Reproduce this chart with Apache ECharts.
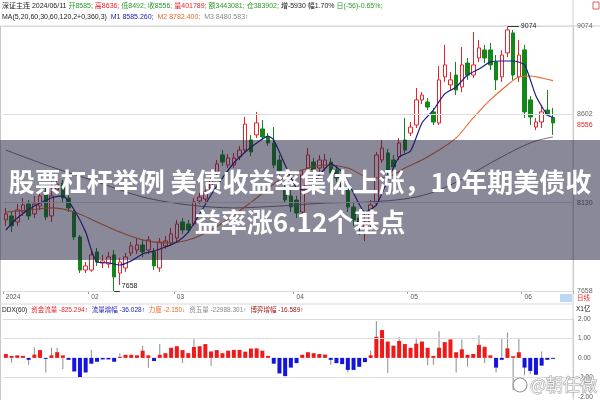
<!DOCTYPE html>
<html><head><meta charset="utf-8">
<script src="https://cdn.jsdelivr.net/npm/echarts@6/dist/echarts.min.js"></script>
<style>html,body{margin:0;padding:0;background:#fff}#c{width:600px;height:400px}</style>
</head><body><div id="c"></div><script>
const dates = ['01-11','01-12','01-15','01-16','01-17','01-18','01-19','01-22','01-23','01-24','01-25','01-26','01-29','01-30','01-31',
'02-01','02-02','02-05','02-06','02-07','02-08','02-19','02-20','02-21','02-22','02-23','02-26','02-27','02-28','02-29',
'03-01','03-04','03-05','03-06','03-07','03-08','03-11','03-12','03-13','03-14','03-15','03-18','03-19','03-20','03-21','03-22','03-25','03-26','03-27','03-28','03-29',
'04-01','04-02','04-03','04-08','04-09','04-10','04-11','04-12','04-15','04-16','04-17','04-18','04-19','04-22','04-23','04-24','04-25','04-26','04-29','04-30',
'05-06','05-07','05-08','05-09','05-10','05-13','05-14','05-15','05-16','05-17','05-20','05-21','05-22','05-23','05-24','05-27','05-28','05-29','05-30','05-31',
'06-03','06-04','06-05','06-06','06-07','06-11'];
const openP = [8038,8059,8027,8080,8123,8070,8112,8187,8059,8198,8235,8155,8080,7947,7770,7770,7867,7808,7802,7851,7754,7781,7861,7877,7904,7877,7867,7781,7899,7915,7941,8027,8016,8016,8139,8150,8198,8294,8385,8331,8331,8374,8411,8465,8492,8524,8481,8449,8358,8208,8166,8144,8080,8315,8347,8315,8315,8347,8305,8273,8208,8107,8048,7995,8027,8128,8358,8396,8358,8374,8465,8502,8545,8679,8668,8615,8556,8802,8759,8812,8748,8876,8812,8903,8946,8946,8882,8802,8930,9037,8802,8946,8679,8534,8561,8625,8585];
const closeP = [8070,8006,8091,8118,8059,8123,8166,8054,8166,8230,8155,8102,7947,7770,7792,7851,7813,7819,7840,7733,7813,7840,7899,7904,7867,7931,7792,7920,7925,7963,8016,7984,7984,8134,8160,8187,8251,8337,8347,8369,8369,8411,8550,8401,8556,8481,8449,8331,8289,8144,8107,8075,8278,8385,8305,8358,8358,8289,8262,8208,8107,8038,8016,8027,8118,8385,8422,8305,8321,8449,8411,8534,8679,8705,8641,8561,8786,8866,8786,8732,8866,8812,8866,8957,8903,8866,8786,8919,9053,8812,8919,8615,8588,8561,8615,8599,8556];
const lowP = [8006,7973,8006,8059,8038,8048,8091,8038,8027,8182,8134,8080,7931,7754,7754,7760,7792,7781,7781,7658,7690,7760,7845,7856,7840,7856,7770,7760,7883,7899,7920,7963,7968,8006,8123,8134,8182,8273,8326,8315,8315,8358,8401,8378,8476,8465,8433,8315,8262,8128,8080,8048,8059,8294,8278,8294,8299,8262,8241,8171,8080,8006,7957,7925,7995,8112,8342,8278,8294,8358,8396,8486,8529,8657,8625,8545,8545,8775,8732,8705,8721,8786,8796,8882,8876,8839,8732,8775,8908,8786,8775,8583,8545,8518,8529,8593,8492];
const highP = [8102,8080,8123,8155,8144,8166,8198,8208,8262,8267,8251,8171,8091,7957,7813,7877,7888,7851,7867,7877,7835,7861,7920,7941,7931,7952,7888,7941,7952,7995,8038,8048,8038,8155,8182,8219,8278,8358,8411,8390,8396,8433,8588,8492,8615,8572,8502,8534,8385,8224,8198,8166,8305,8422,8369,8385,8390,8369,8331,8294,8224,8128,8070,8070,8144,8401,8465,8417,8385,8476,8583,8561,8743,8721,8689,8636,8860,8973,8828,8882,8962,8903,9042,8999,8973,8983,8919,8946,9074,9053,8999,8973,8700,8583,8652,8732,8636];
// moving average lines, read at selected days: [day index, value]
const ma5 = [[0,7984],[2,8048],[5,8112],[8,8155],[10,8166],[12,8091],[14,7973],[15,7877],[16,7813],[18,7808],[20,7797],[22,7819],[24,7856],[26,7872],[28,7893],[30,7920],[32,7973],[34,8070],[36,8171],[38,8262],[40,8342],[42,8401],[44,8449],[46,8486],[47,8465],[49,8331],[51,8208],[53,8198],[55,8278],[57,8337],[59,8294],[61,8182],[63,8080],[65,8118],[67,8251],[69,8374],[71,8406],[73,8556],[75,8625],[77,8711],[79,8748],[81,8812],[83,8844],[85,8882],[87,8887],[89,8887],[91,8866],[93,8700],[95,8599],[96,8585]];
const ma20 = [[0,8080],[4,8091],[8,8102],[12,8080],[16,8027],[20,7973],[24,7931],[28,7915],[32,7931],[36,7984],[40,8064],[44,8155],[48,8251],[52,8305],[56,8331],[60,8315],[64,8262],[67,8267],[70,8315],[73,8358],[76,8411],[79,8476],[82,8583],[85,8679],[88,8759],[90,8802],[92,8807],[94,8796],[96,8782]];
const ma60 = [[0,8411],[8,8321],[16,8241],[24,8160],[32,8118],[40,8102],[48,8112],[56,8128],[64,8134],[70,8150],[74,8176],[78,8224],[82,8289],[86,8358],[90,8422],[93,8460],[96,8481]];
const ddx = [0.2,0.1,0.13,0.1,-0.1,0.17,0.4,-0.05,0.13,0.29,0.13,-0.1,-0.7,-1.0,-0.75,-0.3,-0.2,-0.08,-0.08,-0.2,0.05,0.16,0.16,0.13,0.37,0.13,-0.16,0.16,0.24,0.52,0.6,0.4,0.24,0.56,0.6,0.71,0.33,0.4,0.24,0.37,0.41,0.41,0.32,0.48,0.49,0.37,0.1,-0.3,-0.8,-0.94,-0.5,-0.27,0.16,0.29,0.24,0.2,0.17,-0.1,-0.27,-0.32,-0.62,-0.62,-0.46,-0.22,0.13,1.08,1.43,0.84,0.63,0.87,0.71,0.52,0.73,0.84,0.52,0.1,0.52,0.81,0.95,0.29,0.44,0.16,0.2,0.67,0.57,0.13,-0.5,-0.1,0.49,0.08,0.29,-0.5,-0.67,-0.87,-0.4,-0.1,-0.05];
const ddxWick = [[1,-0.24],[4,-0.35],[5,0.55],[7,-0.75],[8,0.52],[9,0.52],[10,-0.59],[15,0.4],[20,0.24],[24,0.63],[25,-0.51],[27,0.71],[31,-0.27],[33,0.97],[36,-0.4],[57,-0.35],[60,-0.75],[64,0.37],[65,1.9],[67,-0.78],[69,1.08],[72,1.03],[74,-0.38],[75,-0.35],[76,1.37],[79,-0.75],[80,0.95],[81,-0.46],[83,1.17],[84,-0.27],[86,-0.75],[87,1.0],[88,1.3],[89,-1.67],[90,0.97],[91,-0.9],[92,-0.83],[94,0.33]];
const priceTicks = [7658, 8130, 8602, 9074];
const ddxGrid = [2, 1, -1];
const lastClose = 8556, hiVal = 9074, hiIdx = 88, loVal = 7658, loIdx = 19;

const FONT = "'Liberation Sans','Noto Sans CJK SC',sans-serif";
const chart = echarts.init(document.getElementById('c'));
const candle = dates.map((d, i) => [openP[i], closeP[i], lowP[i], highP[i]]);
const isMonthStart = i => i === 0 || (dates[i] && dates[i - 1] && dates[i].slice(0, 2) !== dates[i - 1].slice(0, 2));
const RED = '#e8232a', GREEN = '#14861a';
const F7 = '7px ' + FONT;

const smallTxt = (x, y, text, rich, font) => ({type:'text', x, y, z:50, style:{text, rich, font:font || F7, fill:'#222'}});

chart.setOption({
  animation: false,
  backgroundColor: '#fff',
  grid: [{left:3, right:27, top:26, height:265}, {left:3, right:27, top:319, height:84}],
  xAxis: [
    {type:'category', gridIndex:0, data:dates, max:99,
     axisLine:{lineStyle:{color:'#c8c8c8'}},
     axisTick:{show:true, length:3, interval:(i)=>isMonthStart(i), lineStyle:{color:'#999'}},
     axisLabel:{interval:(i)=>isMonthStart(i), formatter:(v,i)=> i===0 ? '2024' : v.slice(0,2),
       align:'left', fontSize:6.5, color:'#555', margin:3, fontFamily:FONT},
     splitLine:{show:false}},
    {type:'category', gridIndex:1, data:dates, max:99, show:false},
    {type:'category', gridIndex:1, data:dates, max:99, show:false}
  ],
  yAxis: [
    {type:'value', gridIndex:0, min:7658, max:9074, position:'right', splitLine:{show:false},
     axisLabel:{show:false}, axisTick:{show:false}, axisLine:{show:true, lineStyle:{color:'#c8c8c8'}}},
    {type:'value', gridIndex:1, min:-2, max:2, interval:1, position:'right', splitLine:{show:false},
     axisLine:{show:true, lineStyle:{color:'#c8c8c8'}}, axisTick:{show:false},
     axisLabel:{fontSize:6.5, color:'#555', margin:5, fontFamily:FONT, formatter:v=>v.toFixed(2)}}
  ],
  series: [
    {type:'candlestick', xAxisIndex:0, yAxisIndex:0, data:candle, barWidth:4,
     itemStyle:{color:'#fff', color0:GREEN, borderColor:RED, borderColor0:GREEN, borderWidth:1},
     markLine:{symbol:['none','none'], silent:true, animation:false,
       lineStyle:{color:'#dcdcdc', width:1, type:'solid'},
       label:{position:'end', color:'#666', fontSize:7, fontFamily:FONT, distance:4},
       data: priceTicks.map(v=>({yAxis:v})).concat([
         {yAxis:lastClose, lineStyle:{color:'rgba(0,0,0,0)'}, label:{color:RED, offset:[0,2]}},
         [{coord:[hiIdx, hiVal], lineStyle:{color:'#333', type:'solid'}}, {coord:[hiIdx+2, hiVal], label:{color:'#222', formatter:String(hiVal), distance:2}}],
         [{coord:[loIdx, loVal], lineStyle:{color:'#333', type:'solid'}}, {coord:[loIdx+1, loVal], label:{color:'#222', formatter:String(loVal), distance:2, offset:[0,-5]}}]
       ])}},
    {type:'line', xAxisIndex:0, yAxisIndex:0, data:ma60, showSymbol:false, smooth:0.3,
     lineStyle:{color:'#7d7070', width:1}, z:3},
    {type:'line', xAxisIndex:0, yAxisIndex:0, data:ma20, showSymbol:false, smooth:0.3,
     lineStyle:{color:'#e8682a', width:1.1}, z:3},
    {type:'line', xAxisIndex:0, yAxisIndex:0, data:ma5, showSymbol:false, smooth:0.2,
     lineStyle:{color:'#1b1b8a', width:1.2}, z:4},
    {type:'bar', xAxisIndex:2, yAxisIndex:1, data:ddxWick, barWidth:1, itemStyle:{color:'#8c8c8c'}, z:1},
    {type:'bar', xAxisIndex:1, yAxisIndex:1, data:ddx, barWidth:4, z:2,
     itemStyle:{color:p=>p.value>=0?'#f01818':'#1414e0'},
     markLine:{symbol:['none','none'], silent:true, lineStyle:{color:'#dcdcdc', width:1, type:'solid'},
       label:{show:false}, data: ddxGrid.map(v=>({yAxis:v}))}}
  ],
  graphic: [
    {type:'line', z:1, shape:{x1:573, y1:0, x2:573, y2:400}, style:{stroke:'#d0d0d0', lineWidth:1}},
    {type:'line', z:1, shape:{x1:0, y1:26, x2:600, y2:26}, style:{stroke:'#d0d0d0', lineWidth:1}},
    {type:'line', z:1, shape:{x1:0.5, y1:26, x2:0.5, y2:400}, style:{stroke:'#c8c8c8', lineWidth:1}},
    {type:'line', z:1, shape:{x1:0, y1:304, x2:573, y2:304}, style:{stroke:'#d8d8d8', lineWidth:1}},
    {type:'rect', z:1, shape:{x:593, y:2, width:6, height:7}, style:{fill:'none', stroke:'#e06060', lineWidth:1}},
    {type:'rect', z:1, shape:{x:560, y:294, width:12, height:8}, style:{fill:'#bcd8f4'}},
    smallTxt(577, 295, '{r|日线}', {r:{fill:RED, font:'6.5px ' + FONT}}),
    smallTxt(576, 306, 'X1亿', null, '6.5px ' + FONT),
    smallTxt(2, 3,
      '{k|深证主连 2024/06/11} {g|开8585;} {r|高8636;} {g|低8492;} {g|收8556;} {r|量401789;} {g|额3443081;} {g|仓383902;} {k|增-5930 幅1.70%} {g|日(-56)-0.65%;}',
      {k:{fill:'#222', font:F7}, g:{fill:'#2a9a2a', font:F7}, r:{fill:RED, font:F7}}),
    smallTxt(2, 14,
      '{k|MA(5,20,60,30,60,120,2+0,360,3)}  {b|M1 8585.260;}  {o|M2 8782.400;}  {g|M3 8480.583↑}',
      {k:{fill:'#222', font:F7}, b:{fill:'#2020b0', font:F7}, o:{fill:'#e8682a', font:F7}, g:{fill:'#888', font:F7}}),
    smallTxt(2, 307,
      '{k|DDX(60)}  {r|资金流量 -825.294↑}  {b|流量增幅 -36.028↑}  {o|力度 -2.150↓}  {g|资五量 -22988.301↑}  {d|博弈增幅 -16.589↑}',
      {k:{fill:'#222', font:'6.5px ' + FONT}, r:{fill:RED, font:'6.5px ' + FONT}, b:{fill:'#2020c0', font:'6.5px ' + FONT}, o:{fill:'#e8682a', font:'6.5px ' + FONT}, g:{fill:'#888', font:'6.5px ' + FONT}, d:{fill:'#a02020', font:'6.5px ' + FONT}}),
    {type:'rect', z:100, shape:{x:0, y:140, width:600, height:120}, style:{fill:'rgba(30,28,60,0.52)'}},
    {type:'text', z:101, x:300, y:182, style:{text:'股票杠杆举例 美债收益率集体上涨，10年期美债收', fill:'#fff',
      font:"bold 26px 'Noto Sans CJK SC'", textAlign:'center', textVerticalAlign:'middle'}},
    {type:'text', z:101, x:300, y:222, style:{text:'益率涨6.12个基点', fill:'#fff',
      font:"bold 26px 'Noto Sans CJK SC'", textAlign:'center', textVerticalAlign:'middle'}},
    {type:'circle', z:60, shape:{cx:520, cy:385, r:7}, style:{fill:'rgba(255,255,255,0.7)', stroke:'#9a9a9a', lineWidth:1.2}},
    {type:'text', z:60, x:530, y:385, style:{text:'@朝任微', fill:'rgba(255,255,255,0.85)', stroke:'#9a9a9a', lineWidth:1,
      font:"17px 'Noto Sans CJK SC'", textVerticalAlign:'middle'}}
  ]
});
</script></body></html>
